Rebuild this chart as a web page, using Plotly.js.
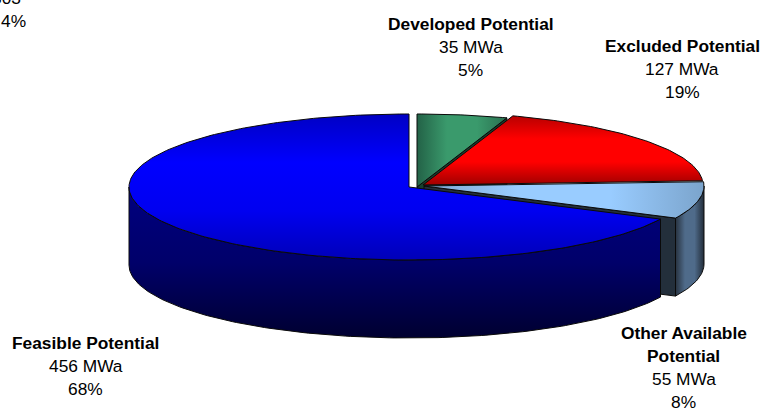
<!DOCTYPE html>
<html>
<head>
<meta charset="utf-8">
<script src="https://cdn.plot.ly/plotly-3.0.1.min.js"></script>
<style>html,body{margin:0;padding:0;background:#fff;overflow:hidden}#c{width:764px;height:408px}</style>
</head>
<body>
<div id="c"></div>
<script>
// Data
var categories = ['Developed Potential', 'Excluded Potential', 'Other Available Potential', 'Feasible Potential'];
var mwa = [35, 127, 55, 456];
var percents = [5, 19, 8, 68];

// Pie projection (layout only)
var RX = 280, RY = 73, DEPTH = 78;
var centreX = [417, 423, 424, 409];
var centreY = [187, 185, 186, 187];
var INK = '#0a0a0a';

var total = mwa.reduce(function (a, b) { return a + b; }, 0);
var starts = [], ends = [], acc = 0;
mwa.forEach(function (v) { starts.push(acc / total * 360); acc += v; ends.push(acc / total * 360); });

function px(i, deg) { return centreX[i] + RX * Math.sin(deg * Math.PI / 180); }
function py(i, deg) { return centreY[i] - RY * Math.cos(deg * Math.PI / 180); }
function arc(i, a, b) {
  var pts = [], n = Math.max(2, Math.ceil(Math.abs(b - a)));
  for (var k = 0; k <= n; k++) { var d = a + (b - a) * k / n; pts.push([px(i, d), py(i, d)]); }
  return pts;
}
function grad(type, stops) {
  // the vertical gradient runs bottom-up on this reversed y axis
  var s = type === 'vertical' ? stops.slice().reverse() : stops;
  return { type: type, colorscale: s.map(function (c, k) { return [k / (s.length - 1), c]; }) };
}
function poly(pts, g, solid) {
  var t = {
    type: 'scatter', mode: 'lines', hoverinfo: 'skip', showlegend: false,
    x: pts.map(function (p) { return p[0]; }).concat([pts[0][0]]),
    y: pts.map(function (p) { return p[1]; }).concat([pts[0][1]]),
    fill: 'toself', line: { color: INK, width: 1 }
  };
  if (g) t.fillgradient = g; else t.fillcolor = solid;
  return t;
}
function topFace(i, g) {
  return poly([[centreX[i], centreY[i]]].concat(arc(i, starts[i], ends[i])), g);
}
function radialWall(i, deg, colour) {
  var a = [px(i, deg), py(i, deg)], c = [centreX[i], centreY[i]];
  return poly([c, a, [a[0], a[1] + DEPTH], [c[0], c[1] + DEPTH]], null, colour);
}
function rimWall(i, a, b, g) {
  var top = arc(i, a, b);
  var bottom = top.slice().reverse().map(function (p) { return [p[0], p[1] + DEPTH]; });
  return poly(top.concat(bottom), g);
}

var traces = [
  radialWall(0, ends[0], '#17402d'),
  topFace(0, grad('horizontal', ['#236247', '#3a9a6c', '#3a9a6c', '#2a7050'])),
  topFace(1, grad('vertical', ['#b80000', '#ff0000', '#ff0000', '#a00000'])),
  rimWall(2, 90, ends[2], grad('horizontal', ['#27323f', '#4f6b8a', '#4f6b8a', '#222d3a'])),
  radialWall(2, ends[2], '#232f3b'),
  topFace(2, grad('horizontal', ['#80a8d2', '#99ccff', '#99ccff', '#7ba4cc'])),
  rimWall(3, starts[3], 270, grad('vertical', ['#000080', '#00006a', '#000030'])),
  topFace(3, grad('vertical', ['#0000c4', '#0000ff', '#0000f0', '#0000b8']))
];

// Labels
var labelLines = [
  { x: 470.5, y: 23.5, lines: ['<b>' + categories[0] + '</b>', mwa[0] + ' MWa', percents[0] + '%'] },
  { x: 682, y: 46, lines: ['<b>' + categories[1] + '</b>', mwa[1] + ' MWa', percents[1] + '%'] },
  { x: 683.5, y: 333, lines: ['<b>Other Available</b>', '<b>Potential</b>', mwa[2] + ' MWa', percents[2] + '%'] },
  { x: 85.5, y: 343, lines: ['<b>' + categories[3] + '</b>', mwa[3] + ' MWa', percents[3] + '%'] }
];
var PITCH = 23, FONT = { family: 'Liberation Sans, Arial, sans-serif', size: 17.33, color: '#000' };
var annotations = [];
labelLines.forEach(function (l) {
  l.lines.forEach(function (t, k) {
    annotations.push({
      text: t, x: l.x, y: l.y + k * PITCH, xref: 'x', yref: 'y', showarrow: false,
      xanchor: 'center', yanchor: 'middle', align: 'center', font: FONT
    });
  });
});
// Label cut off by the top-left corner of the reference
annotations.push({ text: '303', x: 23, y: 0, xref: 'x', yref: 'y', yshift: 2, showarrow: false, xanchor: 'right', yanchor: 'middle', font: FONT });
annotations.push({ text: '4%', x: 13, y: 20.5, xref: 'x', yref: 'y', showarrow: false, xanchor: 'center', yanchor: 'middle', font: FONT });

Plotly.newPlot('c', traces, {
  width: 764, height: 408,
  margin: { l: 0, r: 0, t: 0, b: 0 },
  paper_bgcolor: '#fff', plot_bgcolor: '#fff', showlegend: false,
  xaxis: { range: [0, 764], visible: false, fixedrange: true },
  yaxis: { range: [408, 0], visible: false, fixedrange: true },
  annotations: annotations
}, { displayModeBar: false, staticPlot: true });
</script>
</body>
</html>
